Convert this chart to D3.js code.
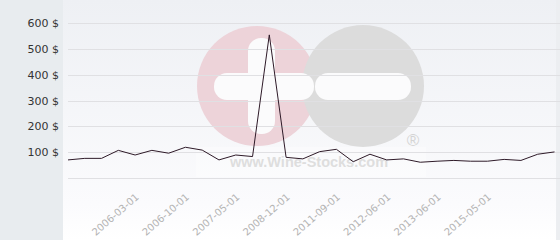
<!DOCTYPE html>
<html><head><meta charset="utf-8">
<script src="https://cdn.jsdelivr.net/npm/d3@7/dist/d3.min.js"></script>
<style>html,body{margin:0;padding:0;background:#fff;}svg{display:block;}</style>
</head><body>
<svg id="c" width="560" height="240"></svg>
<script>
const values = [70,76,76,107,89,107,96,119,108,70,89,83,554,80,74,102,111,63,92,70,74,61,65,68,65,65,72,68,92,101];
const tickIndex = [4,7,10,13,16,19,22,25];
const tickLabels = ["2006-03-01","2006-10-01","2007-05-01","2008-12-01","2011-09-01","2012-06-01","2013-06-01","2015-05-01"];
const yTicks = [100,200,300,400,500,600];

const W=560,H=240;
const svg=d3.select("#c");
const defs=svg.append("defs");
const g=defs.append("linearGradient").attr("id","bg").attr("x1",0).attr("y1",0).attr("x2",0).attr("y2",1);
g.append("stop").attr("offset","0%").attr("stop-color","#eef0f4");
g.append("stop").attr("offset","85%").attr("stop-color","#fbfbfd");
g.append("stop").attr("offset","100%").attr("stop-color","#ffffff");

svg.append("rect").attr("x",0).attr("y",0).attr("width",W).attr("height",H).attr("fill","url(#bg)");
svg.append("rect").attr("x",0).attr("y",0).attr("width",63).attr("height",H).attr("fill","#e8ecef");
svg.append("rect").attr("x",556).attr("y",0).attr("width",4).attr("height",H).attr("fill","#eceef1");

const x=d3.scalePoint().domain(d3.range(values.length)).range([68,554.5]);
const y=d3.scaleLinear().domain([0,600]).range([178,23]);

// watermark
const wm=svg.append("g");
wm.append("rect").attr("x",196).attr("y",147).attr("width",230).attr("height",30).attr("fill","#ffffff").attr("opacity",0.35);
wm.append("circle").attr("cx",257).attr("cy",86).attr("r",60).attr("fill","#edd3d9");
wm.append("circle").attr("cx",363).attr("cy",86).attr("r",61).attr("fill","#dcdcdc");
wm.append("rect").attr("x",248).attr("y",38).attr("width",27).attr("height",96).attr("rx",13).attr("fill","#fbfbfc");
wm.append("rect").attr("x",214).attr("y",73).attr("width",100).attr("height",27).attr("rx",13).attr("fill","#fbfbfc");
wm.append("rect").attr("x",315).attr("y",73).attr("width",96).attr("height",27).attr("rx",13).attr("fill","#fbfbfc");
wm.append("text").attr("x",413).attr("y",146).attr("text-anchor","middle").attr("font-family","Liberation Sans, Arial, sans-serif").attr("font-size",17).attr("fill","#d4d4d4").text("®");
wm.append("text").attr("x",309).attr("y",167).attr("text-anchor","middle").attr("font-family","Liberation Sans, Arial, sans-serif").attr("font-weight","bold").attr("font-size",14.5).attr("fill","#dedede").text("www.Wine-Stocks.com");

// gridlines
const grid=svg.append("g");
grid.selectAll("line").data([0].concat(yTicks)).join("line")
  .attr("x1",68).attr("x2",560).attr("y1",d=>Math.round(y(d))+0.5).attr("y2",d=>Math.round(y(d))+0.5)
  .attr("stroke","#e0e0e3").attr("stroke-width",1);

// y axis labels
const yAxis=d3.axisLeft(y).tickValues(yTicks).tickSize(0).tickPadding(0).tickFormat(d=>d+" $");
const ya=svg.append("g").attr("transform","translate(59,0)").call(yAxis);
ya.select(".domain").remove();
ya.selectAll("text").attr("font-family","DejaVu Sans, sans-serif").attr("font-size",11).attr("fill","#333");

// x axis labels
const xAxis=d3.axisBottom(x).tickValues(tickIndex).tickSize(0).tickFormat((d,i)=>tickLabels[i]);
const xa=svg.append("g").attr("transform","translate(0,178)").call(xAxis);
xa.select(".domain").remove();
xa.selectAll("text").attr("font-family","DejaVu Sans, sans-serif").attr("font-size",10).attr("fill","#b4b4b4")
  .attr("text-anchor","end").attr("dy",0).attr("y",0)
  .attr("transform","translate(4,20) rotate(-41)");

// line
const line=d3.line().x((d,i)=>x(i)).y(d=>y(d));
svg.append("path").datum(values).attr("d",line).attr("fill","none").attr("stroke","#2e1a28").attr("stroke-width",1);
</script>
</body></html>
